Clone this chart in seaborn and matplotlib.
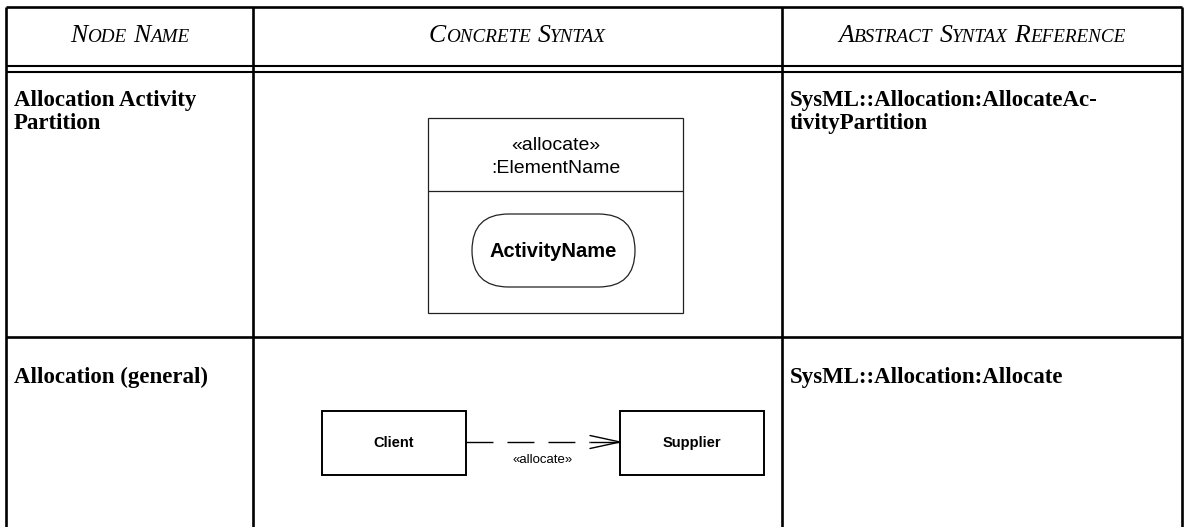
import matplotlib
matplotlib.use("Agg")
import matplotlib.pyplot as plt
import seaborn as sns
from matplotlib.patches import Rectangle, FancyBboxPatch

sns.set_theme(style="white")
plt.rcParams['font.family'] = ['Liberation Serif', 'DejaVu Sans']
plt.rcParams['text.color'] = 'black'

# ---- content ----
headers = ["Node Name", "Concrete Syntax", "Abstract Syntax Reference"]
node_names = [["Allocation Activity", "Partition"], ["Allocation (general)"]]
references = [["SysML::Allocation:AllocateAc-", "tivityPartition"], ["SysML::Allocation:Allocate"]]
partition_labels = ["\u00aballocate\u00bb", ":ElementName"]
activity_label = "ActivityName"
client_label = "Client"
supplier_label = "Supplier"
dependency_label = "\u00aballocate\u00bb"

# ---- layout ----
W, H = 1188, 527
col_x = [6, 253, 782, 1182]
top_y = 7
header_lines = [66, 72]
row_bottom = [337]

fig = plt.figure(figsize=(W / 100, H / 100), dpi=100)
ax = fig.add_axes([0, 0, 1, 1])
ax.set_xlim(0, W)
ax.set_ylim(H, 0)
ax.axis("off")

tlw = 1.9
# table frame
ax.hlines(top_y, col_x[0], col_x[-1], color="black", lw=tlw)
for y in header_lines:
    ax.hlines(y, col_x[0], col_x[-1], color="black", lw=1.5)
for y in row_bottom:
    ax.hlines(y, col_x[0], col_x[-1], color="black", lw=tlw)
ax.vlines(col_x, top_y, H + 5, color="black", lw=tlw)

renderer = fig.canvas.get_renderer()


def small_caps(xc, y, text, big=18.5, small=13.8):
    items = []
    words = text.split(" ")
    for wi, word in enumerate(words):
        items.append((word[0].upper(), big))
        items.append((word[1:].upper(), small))
        if wi < len(words) - 1:
            items.append((" ", big))
    objs = []
    total = 0
    for s, fs in items:
        if s == " ":
            w = fs * 100 / 72 * 0.25
            objs.append((None, w))
        else:
            t = ax.text(0, y, s, fontsize=fs, fontstyle="italic", ha="left", va="baseline",
                        family="Liberation Serif", color="black")
            w = t.get_window_extent(renderer).width
            objs.append((t, w))
        total += w
    x = xc - total / 2
    for t, w in objs:
        if t is not None:
            t.set_x(x)
        x += w


header_base = 42
for i, h in enumerate(headers):
    small_caps((col_x[i] + col_x[i + 1]) / 2, header_base, h)

# row texts
row_base = [106, 383]
line_gap = 23
for r in range(len(node_names)):
    for k, line in enumerate(node_names[r]):
        ax.text(14, row_base[r] + k * line_gap, line, fontsize=16.5, fontweight="bold",
                ha="left", va="baseline", family="Liberation Serif", color="black")
    for k, line in enumerate(references[r]):
        ax.text(790, row_base[r] + k * line_gap, line, fontsize=16.5, fontweight="bold",
                ha="left", va="baseline", family="Liberation Serif", color="black")

# ---- partition diagram ----
bx0, bx1, by0, by1, bsep = 428, 683, 118, 313, 191
ax.add_patch(Rectangle((bx0, by0), bx1 - bx0, by1 - by0, fill=False, ec="#222222", lw=0.9))
ax.hlines(bsep, bx0, bx1, color="#222222", lw=0.9)
cx = (bx0 + bx1) / 2
ax.text(cx, 150, partition_labels[0], fontsize=14, ha="center", va="baseline",
        family="Liberation Sans", color="black")
ax.text(cx, 173, partition_labels[1], fontsize=14, ha="center", va="baseline",
        family="Liberation Sans", color="black")
sx0, sx1, sy0, sy1 = 472, 635, 214, 287
ax.add_patch(FancyBboxPatch((sx0, sy0), sx1 - sx0, sy1 - sy0,
                            boxstyle="round,pad=0,rounding_size=36.5",
                            fill=False, ec="#222222", lw=0.9))
ax.text((sx0 + sx1) / 2, (sy0 + sy1) / 2 + 1, activity_label, fontsize=14.5, fontweight="bold",
        ha="center", va="center", family="Liberation Sans", color="black")

# ---- allocation dependency ----
cb = (322, 466)
sb = (620, 764)
ry0, ry1 = 411, 475
for x0, x1, lab in [(cb[0], cb[1], client_label), (sb[0], sb[1], supplier_label)]:
    ax.add_patch(Rectangle((x0, ry0), x1 - x0, ry1 - ry0, fill=False, ec="black", lw=1.4))
    ax.text((x0 + x1) / 2, (ry0 + ry1) / 2, lab, fontsize=10.5, fontweight="bold",
            ha="center", va="center", family="Liberation Sans", color="black")
ly = 442
ax.plot([cb[1], sb[0] - 30], [ly, ly], color="black", lw=1.0,
        linestyle=(0, (19.4, 10.1)), dash_capstyle="butt")
ax.plot([sb[0] - 30, sb[0]], [ly, ly], color="black", lw=1.0, solid_capstyle="butt")
ax.plot([sb[0] - 30, sb[0], sb[0] - 30], [ly - 6.5, ly, ly + 6.5], color="black", lw=1.0)
ax.text((cb[1] + sb[0]) / 2, 460, dependency_label, fontsize=9.5, ha="center", va="center",
        family="Liberation Sans", color="black")

fig.savefig("out.png", dpi=100, facecolor="white")
